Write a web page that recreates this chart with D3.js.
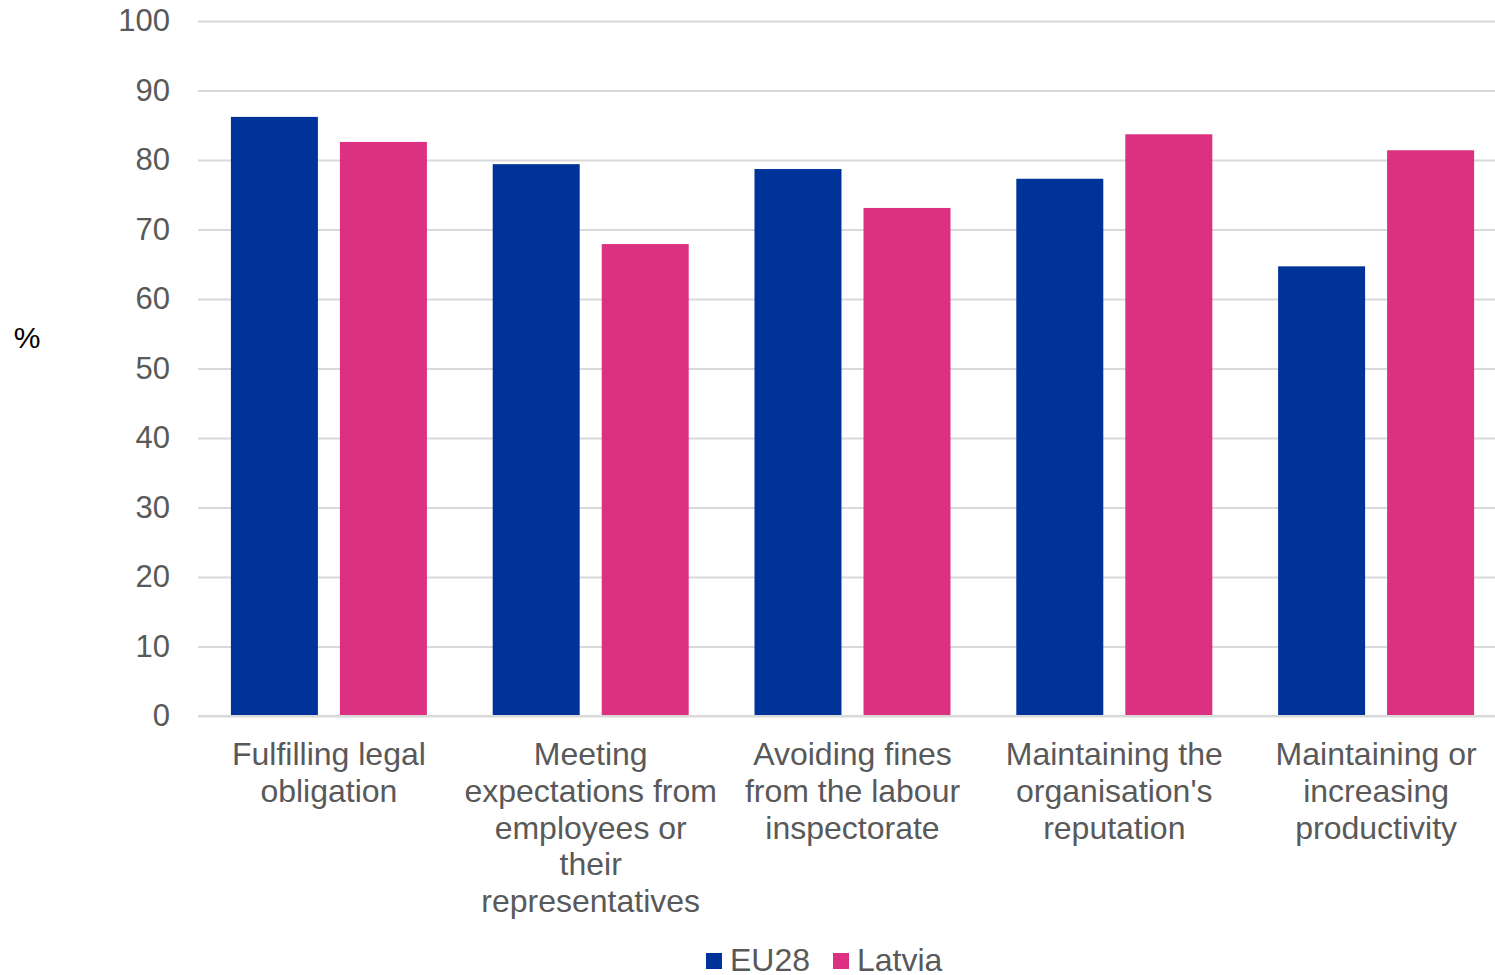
<!DOCTYPE html>
<html>
<head>
<meta charset="utf-8">
<script src="https://cdn.jsdelivr.net/npm/d3@7"></script>
<style>
  body { margin: 0; background: #fff; overflow: hidden; }
  text { font-family: "Liberation Sans", Arial, sans-serif; }
</style>
</head>
<body>
<div id="chart"></div>
<script>
// chart data
var categories = ["legal", "expectations", "fines", "reputation", "productivity"];
var categoryLabels = [
    ["Fulfilling legal", "obligation"],
    ["Meeting", "expectations from", "employees or", "their", "representatives"],
    ["Avoiding fines", "from the labour", "inspectorate"],
    ["Maintaining the", "organisation's", "reputation"],
    ["Maintaining or", "increasing", "productivity"]
];
var seriesNames = ["EU28", "Latvia"];
var eu28Values = [86.2, 79.4, 78.7, 77.3, 64.7];
var latviaValues = [82.6, 67.9, 73.1, 83.7, 81.4];
var yTicks = [0, 10, 20, 30, 40, 50, 60, 70, 80, 90, 100];

function init() {
    var w = 1495;
    var h = 975;
    var left = 198, right = 1507, top = 21, bottom = 716; // plot runs past the right edge
    var colors = ["#003399", "#DC3081"];
    var textColor = "#595959";

    var series = [eu28Values, latviaValues];

    var x0 = d3.scaleBand()
        .domain(categories)
        .range([left, right])
        .padding(0);

    var inner = 32.9;
    var x1 = d3.scaleBand()
        .domain(seriesNames)
        .range([inner, x0.bandwidth() - inner])
        .paddingInner(0.202)
        .paddingOuter(0);

    var y = d3.scaleLinear()
        .domain([0, 100])
        .range([bottom, top]);

    var svg = d3.select("#chart")
        .append("svg")
        .attr("width", w)
        .attr("height", h);

    // gridlines + y labels
    var yAxis = d3.axisLeft(y)
        .tickValues(yTicks)
        .tickSize(-(right - left))
        .tickPadding(28);

    var gy = svg.append("g")
        .attr("transform", "translate(" + left + ",0)")
        .call(yAxis);
    gy.select(".domain").remove();
    gy.selectAll(".tick line")
        .attr("stroke", "#d9d9d9")
        .attr("stroke-width", 2);
    gy.selectAll(".tick text")
        .attr("fill", textColor)
        .attr("font-size", "31px");

    // bars
    var groups = svg.selectAll("g.cat")
        .data(categories)
        .enter()
        .append("g")
        .attr("class", "cat")
        .attr("transform", function (d) {
            return "translate(" + x0(d) + ",0)";
        });

    groups.selectAll("rect")
        .data(function (d, i) {
            return seriesNames.map(function (s, j) {
                return { key: s, value: series[j][i], idx: j };
            });
        })
        .enter()
        .append("rect")
        .attr("x", function (d) { return x1(d.key); })
        .attr("y", function (d) { return y(d.value); })
        .attr("width", x1.bandwidth())
        .attr("height", function (d) { return y(0) - y(d.value); })
        .attr("fill", function (d) { return colors[d.idx]; });

    // x axis line
    svg.append("line")
        .attr("x1", left)
        .attr("x2", right)
        .attr("y1", y(0))
        .attr("y2", y(0))
        .attr("stroke", "#d9d9d9")
        .attr("stroke-width", 2);

    // category labels (wrapped as in the original)
    var lineH = 36.8;
    svg.selectAll("text.cat")
        .data(categories)
        .enter()
        .append("text")
        .attr("class", "cat")
        .attr("text-anchor", "middle")
        .attr("fill", textColor)
        .attr("font-size", "32px")
        .each(function (d, i) {
            var t = d3.select(this);
            var cx = x0(d) + x0.bandwidth() / 2;
            categoryLabels[i].forEach(function (line, k) {
                t.append("tspan")
                    .attr("x", cx)
                    .attr("y", 765 + k * lineH)
                    .text(line);
            });
        });

    // y axis title
    svg.append("text")
        .attr("x", 27)
        .attr("y", 348)
        .attr("text-anchor", "middle")
        .attr("fill", "#000")
        .attr("font-size", "30px")
        .text("%");

    // legend
    var legendX = [706, 833];
    var lg = svg.selectAll("g.legend")
        .data(seriesNames)
        .enter()
        .append("g")
        .attr("class", "legend")
        .attr("transform", function (d, i) {
            return "translate(" + legendX[i] + ",953)";
        });
    lg.append("rect")
        .attr("width", 16)
        .attr("height", 16)
        .attr("fill", function (d, i) { return colors[i]; });
    lg.append("text")
        .attr("x", 24)
        .attr("y", 18)
        .attr("fill", textColor)
        .attr("font-size", "32px")
        .text(function (d) { return d; });
}

window.onload = init;
</script>
</body>
</html>
